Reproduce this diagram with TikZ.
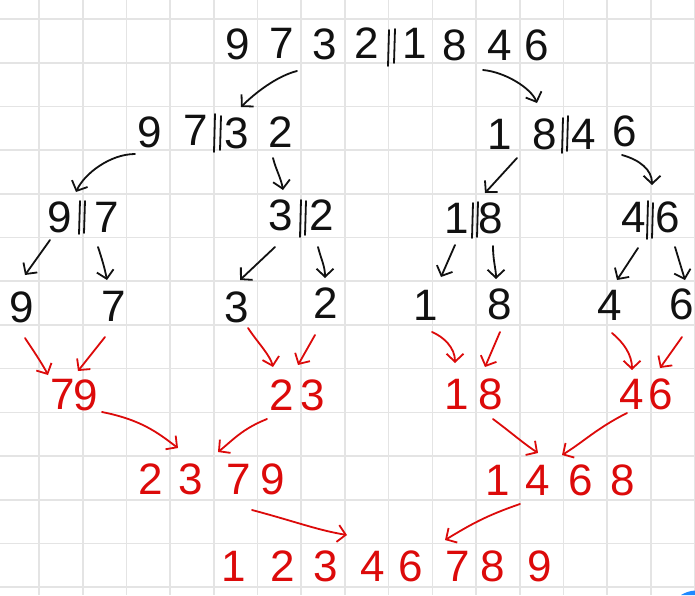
\documentclass[tikz,border=0pt]{standalone}
\usepackage{fontspec}
\setmainfont{Liberation Sans}
\usetikzlibrary{arrows.meta}
\definecolor{ink}{RGB}{17,17,17}
\definecolor{redink}{RGB}{220,10,10}
\definecolor{gridc}{RGB}{228,228,228}
\definecolor{uiblue}{RGB}{30,136,255}
\begin{document}
\begin{tikzpicture}[x=1pt,y=-1pt,
  dg/.style={inner sep=0pt, font=\fontsize{44}{44}\selectfont},
  bk/.style={dg, text=ink},
  rd/.style={dg, text=redink},
  barrow/.style={draw=ink, line width=1.8pt, line cap=round, line join=round, -{Straight Barb[length=8pt,width=17pt]}},
  rarrow/.style={barrow, draw=redink},
  sepline/.style={draw=ink, line width=1.8pt, line cap=round},
  gridline/.style={draw=gridc, line width=1.6pt}]
\fill[white] (0,0) rectangle (695,595);
\useasboundingbox (0,0) rectangle (695,595);
\foreach \k in {0,...,15} \draw[gridline] ({39+43.7*\k},0) -- ({39+43.7*\k},595);
\foreach \k in {0,...,13} \draw[gridline] (0,{19+43.7*\k}) -- (695,{19+43.7*\k});
% row 1
\node[bk] (a9) at (238,44) {9};
\node[bk] (a7) at (282,43) {7};
\node[bk] (a3) at (325,44) {3};
\node[bk] (a2) at (367,43) {2};
\node[bk] (a1) at (415,43) {1};
\node[bk] (a8) at (455,45) {8};
\node[bk] (a4) at (500,45) {4};
\node[bk] (a6) at (537,45) {6};
\draw[sepline] (389,30) -- (388,66);
\draw[sepline] (395,29) -- (394,63);
% row 2
\node[bk] (b9) at (150,132) {9};
\node[bk] (b7) at (196,130) {7};
\node[bk] (b3) at (237,133) {3};
\node[bk] (b2) at (281,132) {2};
\draw[sepline] (215,114) -- (214,152);
\draw[sepline] (221,116) -- (220,150);
\node[bk] (b1) at (500,134) {1};
\node[bk] (b8) at (545,134) {8};
\node[bk] (b4) at (584,134) {4};
\node[bk] (b6) at (625,131) {6};
\draw[sepline] (563,118) -- (562,153);
\draw[sepline] (568,116) -- (567,151);
% row 3
\node[bk] (c9) at (60,217) {9};
\node[bk] (c7) at (107,217) {7};
\draw[sepline] (80,201) -- (79,234);
\draw[sepline] (85,201) -- (84,233);
\node[bk] (c3) at (281,215) {3};
\node[bk] (c2) at (322,215) {2};
\draw[sepline] (301,200) -- (300,237);
\draw[sepline] (306,201) -- (305,235);
\node[bk] (c1) at (457,218) {1};
\node[bk] (c8) at (491,218) {8};
\draw[sepline] (473,203) -- (472,238);
\draw[sepline] (478,202) -- (477,237);
\node[bk] (c4) at (634,217) {4};
\node[bk] (c6) at (668,217) {6};
\draw[sepline] (648,201) -- (647,239);
\draw[sepline] (653,203) -- (652,238);
% row 4
\node[bk] (d9) at (22,307) {9};
\node[bk] (d7) at (114,306) {7};
\node[bk] (d3) at (237,307) {3};
\node[bk] (d2) at (326,303) {2};
\node[bk] (d1) at (426,305) {1};
\node[bk] (d8) at (500,304) {8};
\node[bk] (d4) at (610,305) {4};
\node[bk] (d6) at (682,304) {6};
% row 5
\node[rd] (e7) at (63,394) {7};
\node[rd] (e9) at (86,395) {9};
\node[rd] (e2) at (282,395) {2};
\node[rd] (e3) at (313,395) {3};
\node[rd] (e1) at (457,394) {1};
\node[rd] (e8) at (491,394) {8};
\node[rd] (e4) at (632,394) {4};
\node[rd] (e6) at (661,394) {6};
% row 6
\node[rd] (f2) at (151,479) {2};
\node[rd] (f3) at (191,479) {3};
\node[rd] (f7) at (239,479) {7};
\node[rd] (f9) at (273,479) {9};
\node[rd] (f1) at (498,480) {1};
\node[rd] (f4) at (538,480) {4};
\node[rd] (f6) at (581,480) {6};
\node[rd] (f8) at (623,480) {8};
% row 7
\node[rd] (g1) at (234,566) {1};
\node[rd] (g2) at (283,566) {2};
\node[rd] (g3) at (326,566) {3};
\node[rd] (g4) at (373,566) {4};
\node[rd] (g6) at (411,566) {6};
\node[rd] (g7) at (458,566) {7};
\node[rd] (g8) at (493,566) {8};
\node[rd] (g9) at (540,566) {9};
% black arrows
\draw[barrow] ([shift={(-28,27)}]a3.center) .. controls +(-20,5) and +(14,-14) .. ([shift={(4,-26)}]b3.center);
\draw[barrow] ([shift={(-17,25)}]a4.center) .. controls +(22,2) and +(-6,-15) .. ([shift={(-8,-31)}]b8.center);
\draw[barrow] ([shift={(-15,22)}]b9.center) .. controls +(-25,0) and +(8,-18) .. ([shift={(16,-25)}]c9.center);
\draw[barrow] ([shift={(-8,26)}]b2.center) .. controls +(3,12) and +(-2,-12) .. ([shift={(2,-25)}]c3.center);
\draw[barrow] ([shift={(17,24)}]b1.center) -- ([shift={(-6,-25)}]c8.center);
\draw[barrow] ([shift={(-3,24)}]b6.center) .. controls +(18,5) and +(0,-15) .. ([shift={(-16,-32)}]c6.center);
\draw[barrow] ([shift={(-10,23)}]c9.center) -- ([shift={(3,-32)}]d9.center);
\draw[barrow] ([shift={(-9,30)}]c7.center) .. controls +(5,15) and +(-2,-10) .. ([shift={(-7,-26)}]d7.center);
\draw[barrow] ([shift={(-6,32)}]c3.center) -- ([shift={(3,-27)}]d3.center);
\draw[barrow] ([shift={(-4,32)}]c2.center) .. controls +(3,12) and +(0,-12) .. ([shift={(-1,-25)}]d2.center);
\draw[barrow] ([shift={(-2,27)}]c1.center) -- ([shift={(15,-28)}]d1.center);
\draw[barrow] ([shift={(2,28)}]c8.center) .. controls +(0,15) and +(0,-10) .. ([shift={(-4,-25)}]d8.center);
\draw[barrow] ([shift={(4,31)}]c4.center) -- ([shift={(7,-25)}]d4.center);
\draw[barrow] ([shift={(7,30)}]c6.center) -- ([shift={(3,-24)}]d6.center);
% red arrows
\draw[rarrow] ([shift={(3,31)}]d9.center) .. controls +(8,12) and +(-5,-10) .. ([shift={(-15,-19)}]e7.center);
\draw[rarrow] ([shift={(-9,31)}]d7.center) -- ([shift={(-8,-24)}]e9.center);
\draw[rarrow] ([shift={(11,21)}]d3.center) .. controls +(10,15) and +(-3,-12) .. ([shift={(-9,-28)}]e2.center);
\draw[rarrow] ([shift={(-11,32)}]d2.center) -- ([shift={(-15,-30)}]e3.center);
\draw[rarrow] ([shift={(16,17)}]e9.center) .. controls +(40,8) and +(-20,-15) .. ([shift={(-13,-31)}]f3.center);
\draw[rarrow] ([shift={(-15,24)}]e2.center) .. controls +(-25,10) and +(15,-12) .. ([shift={(-21,-27)}]f7.center);
\draw[rarrow] ([shift={(13,31)}]f7.center) .. controls +(45,12) and +(-30,-5) .. ([shift={(-26,-31)}]g4.center);
\draw[rarrow] ([shift={(6,27)}]d1.center) .. controls +(12,5) and +(0,-15) .. ([shift={(-2,-31)}]e1.center);
\draw[rarrow] ([shift={(0,28)}]d8.center) -- ([shift={(-6,-27)}]e8.center);
\draw[rarrow] ([shift={(2,28)}]d4.center) .. controls +(12,10) and +(0,-15) .. ([shift={(0,-24)}]e4.center);
\draw[rarrow] ([shift={(0,33)}]d6.center) -- ([shift={(-1,-26)}]e6.center);
\draw[rarrow] ([shift={(2,25)}]e8.center) .. controls +(20,15) and +(-15,-10) .. ([shift={(0,-27)}]f4.center);
\draw[rarrow] ([shift={(-5,19)}]e4.center) .. controls +(-30,15) and +(20,-12) .. ([shift={(24,-25)}]f4.center);
\draw[rarrow] ([shift={(22,24)}]f1.center) .. controls +(-35,12) and +(25,-15) .. ([shift={(-13,-26)}]g7.center);
% corner of a blue button
\fill[uiblue] (681,595) .. controls (686,592) and (690,591) .. (695,590.5) -- (695,595) -- cycle;
\end{tikzpicture}
\end{document}
